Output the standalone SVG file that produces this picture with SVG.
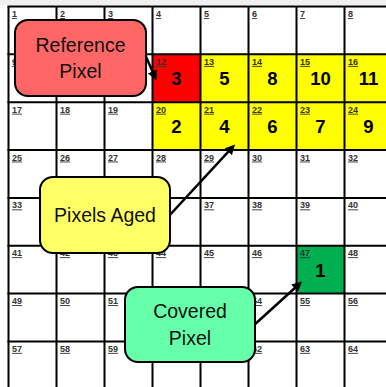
<svg xmlns="http://www.w3.org/2000/svg" width="386" height="387" viewBox="0 0 386 387">
<style>
.lbl{font-family:"Liberation Sans",Arial,sans-serif;font-size:9px;font-weight:bold;fill:#333;text-decoration:underline}
.big{font-family:"Liberation Sans",Arial,sans-serif;font-size:18.5px;font-weight:bold;fill:#000;text-anchor:middle}
.grid line{stroke:#000;stroke-width:2}
.box{stroke:#000;stroke-width:2}
.ctext{font-family:"Liberation Sans",Arial,sans-serif;font-size:19.5px;fill:#111;text-anchor:middle}
.conn line{stroke:#000;stroke-width:2.5}
</style>
<defs>
<marker id="ah" viewBox="0 0 10 10" refX="6" refY="5" markerWidth="4" markerHeight="4" orient="auto" markerUnits="strokeWidth">
<path d="M0,0 L10,5 L0,10 z" fill="#000"/>
</marker>
</defs>
<rect x="0" y="0" width="386" height="387" fill="#fff"/>
<rect x="0" y="0" width="386" height="5" fill="#f0f0f0"/>
<g id="fills">
<rect x="152.5" y="54.35" width="48" height="47.85" fill="#ff0000"/>
<rect x="200.5" y="54.35" width="186" height="47.85" fill="#ffff00"/>
<rect x="152.5" y="102.2" width="234" height="47.85" fill="#ffff00"/>
<rect x="296.5" y="245.75" width="48" height="47.85" fill="#00b050"/>
</g>
<g id="labels">
<text class="lbl" x="12" y="17">1</text><text class="lbl" x="60" y="17">2</text><text class="lbl" x="108" y="17">3</text><text class="lbl" x="156" y="17">4</text><text class="lbl" x="204" y="17">5</text><text class="lbl" x="252" y="17">6</text><text class="lbl" x="300" y="17">7</text><text class="lbl" x="348" y="17">8</text>
<text class="lbl" x="12" y="64.9">9</text><text class="lbl" x="156" y="64.9">12</text><text class="lbl" x="204" y="64.9">13</text><text class="lbl" x="252" y="64.9">14</text><text class="lbl" x="300" y="64.9">15</text><text class="lbl" x="348" y="64.9">16</text>
<text class="lbl" x="12" y="112.7">17</text><text class="lbl" x="60" y="112.7">18</text><text class="lbl" x="108" y="112.7">19</text><text class="lbl" x="156" y="112.7">20</text><text class="lbl" x="204" y="112.7">21</text><text class="lbl" x="252" y="112.7">22</text><text class="lbl" x="300" y="112.7">23</text><text class="lbl" x="348" y="112.7">24</text>
<text class="lbl" x="12" y="160.5">25</text><text class="lbl" x="60" y="160.5">26</text><text class="lbl" x="108" y="160.5">27</text><text class="lbl" x="156" y="160.5">28</text><text class="lbl" x="204" y="160.5">29</text><text class="lbl" x="252" y="160.5">30</text><text class="lbl" x="300" y="160.5">31</text><text class="lbl" x="348" y="160.5">32</text>
<text class="lbl" x="12" y="208.4">33</text><text class="lbl" x="204" y="208.4">37</text><text class="lbl" x="252" y="208.4">38</text><text class="lbl" x="300" y="208.4">39</text><text class="lbl" x="348" y="208.4">40</text>
<text class="lbl" x="12" y="256.2">41</text><text class="lbl" x="60" y="256.2">42</text><text class="lbl" x="108" y="256.2">43</text><text class="lbl" x="156" y="256.2">44</text><text class="lbl" x="204" y="256.2">45</text><text class="lbl" x="252" y="256.2">46</text><text class="lbl" x="300" y="256.2">47</text><text class="lbl" x="348" y="256.2">48</text>
<text class="lbl" x="12" y="304.1">49</text><text class="lbl" x="60" y="304.1">50</text><text class="lbl" x="108" y="304.1">51</text><text class="lbl" x="252" y="304.1">54</text><text class="lbl" x="300" y="304.1">55</text><text class="lbl" x="348" y="304.1">56</text>
<text class="lbl" x="12" y="351.9">57</text><text class="lbl" x="60" y="351.9">58</text><text class="lbl" x="108" y="351.9">59</text><text class="lbl" x="252" y="351.9">62</text><text class="lbl" x="300" y="351.9">63</text><text class="lbl" x="348" y="351.9">64</text>
</g>
<g id="values">
<text class="big" x="176.5" y="85">3</text>
<text class="big" x="224.5" y="85">5</text>
<text class="big" x="272.5" y="85">8</text>
<text class="big" x="320.5" y="85">10</text>
<text class="big" x="368.5" y="85">11</text>
<text class="big" x="176.5" y="133">2</text>
<text class="big" x="224.5" y="133">4</text>
<text class="big" x="272.5" y="133">6</text>
<text class="big" x="320.5" y="133">7</text>
<text class="big" x="368.5" y="133">9</text>
<text class="big" x="320.5" y="276.5">1</text>
</g>
<g class="grid" id="grid">
<line x1="8.5" y1="6.5" x2="8.5" y2="387"/>
<line x1="56.5" y1="6.5" x2="56.5" y2="387"/>
<line x1="104.5" y1="6.5" x2="104.5" y2="387"/>
<line x1="152.5" y1="6.5" x2="152.5" y2="387"/>
<line x1="200.5" y1="6.5" x2="200.5" y2="387"/>
<line x1="248.5" y1="6.5" x2="248.5" y2="387"/>
<line x1="296.5" y1="6.5" x2="296.5" y2="387"/>
<line x1="344.5" y1="6.5" x2="344.5" y2="387"/>
<line x1="7.5" y1="6.5" x2="386" y2="6.5"/>
<line x1="7.5" y1="54.35" x2="386" y2="54.35"/>
<line x1="7.5" y1="102.2" x2="386" y2="102.2"/>
<line x1="7.5" y1="150.05" x2="386" y2="150.05"/>
<line x1="7.5" y1="197.9" x2="386" y2="197.9"/>
<line x1="7.5" y1="245.75" x2="386" y2="245.75"/>
<line x1="7.5" y1="293.6" x2="386" y2="293.6"/>
<line x1="7.5" y1="341.45" x2="386" y2="341.45"/>
</g>
<g class="conn" id="connectors">
<line x1="143" y1="50" x2="154.9" y2="76.8" marker-end="url(#ah)"/>
<line x1="168" y1="217" x2="232.3" y2="147.4" marker-end="url(#ah)"/>
<line x1="253" y1="326" x2="299" y2="284.2" marker-end="url(#ah)"/>
</g>
<g id="node-reference">
<rect class="box" x="15" y="20" width="131" height="76" rx="13" fill="#ff6666"/>
<text class="ctext" x="80.5" y="52">Reference</text>
<text class="ctext" x="80.5" y="77.5">Pixel</text>
</g>
<g id="node-aged">
<rect class="box" x="40" y="177" width="130" height="76" rx="13" fill="#ffff66"/>
<text class="ctext" x="105" y="222">Pixels Aged</text>
</g>
<g id="node-covered">
<rect class="box" x="125" y="287" width="130" height="75" rx="13" fill="#66ffaa"/>
<text class="ctext" x="190" y="318">Covered</text>
<text class="ctext" x="190" y="345">Pixel</text>
</g>
</svg>
